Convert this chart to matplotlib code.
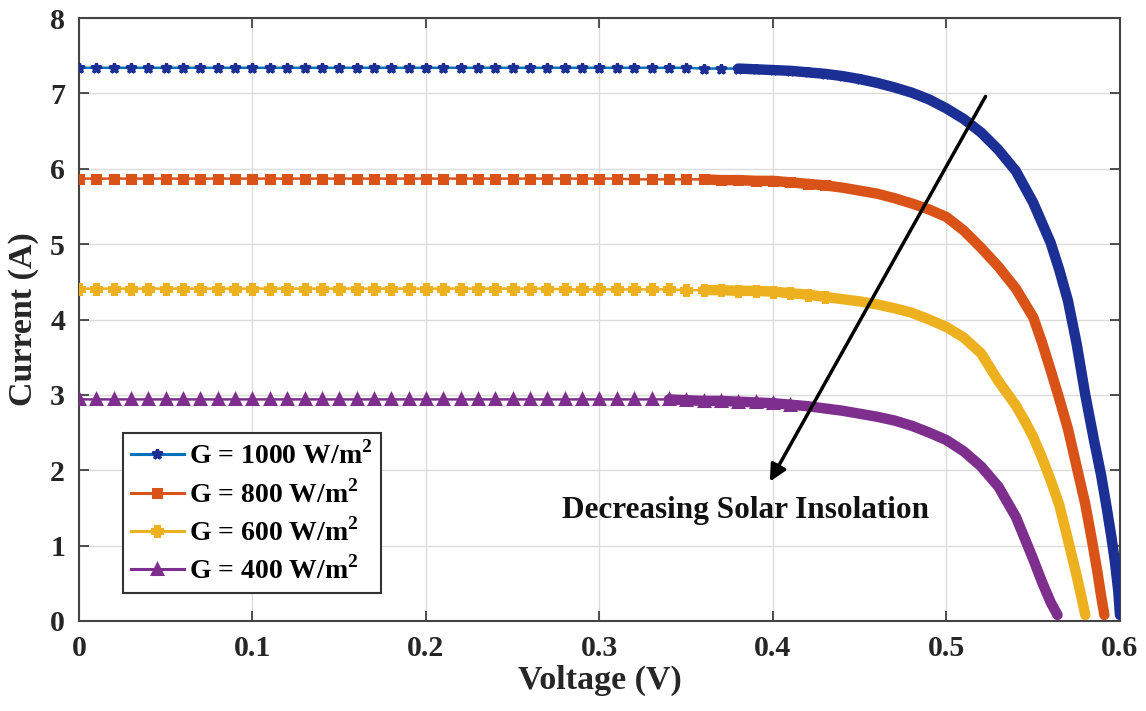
import numpy as np
import matplotlib
matplotlib.use("Agg")
import matplotlib.pyplot as plt
from matplotlib.lines import Line2D

plt.rcParams['font.family'] = ['Liberation Serif', 'DejaVu Serif']
plt.rcParams['font.weight'] = 'bold'
plt.rcParams['mathtext.fontset'] = 'custom'
plt.rcParams['mathtext.rm'] = 'Liberation Serif:bold'

# I-V curves (V in volts, I in amps)
v_1000 = [0.00, 0.01, 0.02, 0.03, 0.04, 0.05, 0.06, 0.07, 0.08, 0.09,
          0.10, 0.11, 0.12, 0.13, 0.14, 0.15, 0.16, 0.17, 0.18, 0.19,
          0.20, 0.21, 0.22, 0.23, 0.24, 0.25, 0.26, 0.27, 0.28, 0.29,
          0.30, 0.31, 0.32, 0.33, 0.34, 0.35, 0.36, 0.37, 0.38, 0.39,
          0.40, 0.41, 0.42, 0.43, 0.44, 0.45, 0.46, 0.47, 0.48, 0.49,
          0.50, 0.51, 0.52, 0.53, 0.54, 0.55, 0.56, 0.565, 0.57, 0.575,
          0.58, 0.585, 0.589, 0.592, 0.595, 0.597, 0.599, 0.600]
i_1000 = [7.34, 7.34, 7.34, 7.34, 7.34, 7.34, 7.34, 7.34, 7.34, 7.34,
          7.34, 7.34, 7.34, 7.34, 7.34, 7.34, 7.34, 7.34, 7.34, 7.34,
          7.34, 7.34, 7.34, 7.34, 7.34, 7.34, 7.34, 7.34, 7.34, 7.34,
          7.34, 7.34, 7.34, 7.34, 7.34, 7.34, 7.33, 7.33, 7.33, 7.32,
          7.31, 7.30, 7.28, 7.26, 7.23, 7.19, 7.14, 7.08, 7.01, 6.92,
          6.80, 6.66, 6.48, 6.25, 5.97, 5.55, 5.02, 4.66, 4.25, 3.68,
          3.00, 2.40, 1.95, 1.55, 1.12, 0.80, 0.40, 0.08]

v_800 = [0.00, 0.01, 0.02, 0.03, 0.04, 0.05, 0.06, 0.07, 0.08, 0.09,
         0.10, 0.11, 0.12, 0.13, 0.14, 0.15, 0.16, 0.17, 0.18, 0.19,
         0.20, 0.21, 0.22, 0.23, 0.24, 0.25, 0.26, 0.27, 0.28, 0.29,
         0.30, 0.31, 0.32, 0.33, 0.34, 0.35, 0.36, 0.37, 0.38, 0.39,
         0.40, 0.41, 0.42, 0.43, 0.44, 0.45, 0.46, 0.47, 0.48, 0.49,
         0.50, 0.51, 0.52, 0.53, 0.54, 0.55, 0.555, 0.56, 0.565, 0.57,
         0.575, 0.58, 0.584, 0.587, 0.589, 0.591]
i_800 = [5.87, 5.87, 5.87, 5.87, 5.87, 5.87, 5.87, 5.87, 5.87, 5.87,
         5.87, 5.87, 5.87, 5.87, 5.87, 5.87, 5.87, 5.87, 5.87, 5.87,
         5.87, 5.87, 5.87, 5.87, 5.87, 5.87, 5.87, 5.87, 5.87, 5.87,
         5.87, 5.87, 5.86, 5.86, 5.86, 5.86, 5.86, 5.85, 5.85, 5.84,
         5.84, 5.82, 5.80, 5.78, 5.75, 5.71, 5.67, 5.61, 5.54, 5.46,
         5.36, 5.18, 4.95, 4.70, 4.41, 4.03, 3.70, 3.33, 2.95, 2.55,
         2.05, 1.55, 1.05, 0.65, 0.35, 0.08]

v_600 = [0.00, 0.01, 0.02, 0.03, 0.04, 0.05, 0.06, 0.07, 0.08, 0.09,
         0.10, 0.11, 0.12, 0.13, 0.14, 0.15, 0.16, 0.17, 0.18, 0.19,
         0.20, 0.21, 0.22, 0.23, 0.24, 0.25, 0.26, 0.27, 0.28, 0.29,
         0.30, 0.31, 0.32, 0.33, 0.34, 0.35, 0.36, 0.37, 0.38, 0.39,
         0.40, 0.41, 0.42, 0.43, 0.44, 0.45, 0.46, 0.47, 0.48, 0.49,
         0.50, 0.51, 0.52, 0.53, 0.54, 0.545, 0.55, 0.555, 0.56, 0.565,
         0.57, 0.574, 0.577, 0.580]
i_600 = [4.41, 4.41, 4.41, 4.41, 4.41, 4.41, 4.41, 4.41, 4.41, 4.41,
         4.41, 4.41, 4.41, 4.41, 4.41, 4.41, 4.41, 4.41, 4.41, 4.41,
         4.41, 4.41, 4.41, 4.41, 4.41, 4.41, 4.41, 4.41, 4.40, 4.40,
         4.40, 4.40, 4.40, 4.40, 4.40, 4.39, 4.39, 4.39, 4.38, 4.38,
         4.37, 4.35, 4.33, 4.30, 4.27, 4.24, 4.20, 4.15, 4.09, 4.00,
         3.90, 3.76, 3.55, 3.18, 2.86, 2.66, 2.44, 2.17, 1.87, 1.54,
         1.08, 0.70, 0.40, 0.08]

v_400 = [0.00, 0.01, 0.02, 0.03, 0.04, 0.05, 0.06, 0.07, 0.08, 0.09,
         0.10, 0.11, 0.12, 0.13, 0.14, 0.15, 0.16, 0.17, 0.18, 0.19,
         0.20, 0.21, 0.22, 0.23, 0.24, 0.25, 0.26, 0.27, 0.28, 0.29,
         0.30, 0.31, 0.32, 0.33, 0.34, 0.35, 0.36, 0.37, 0.38, 0.39,
         0.40, 0.41, 0.42, 0.43, 0.44, 0.45, 0.46, 0.47, 0.48, 0.49,
         0.50, 0.51, 0.52, 0.53, 0.54, 0.545, 0.55, 0.555, 0.56, 0.564]
i_400 = [2.94, 2.94, 2.94, 2.94, 2.94, 2.94, 2.94, 2.94, 2.94, 2.94,
         2.94, 2.94, 2.94, 2.94, 2.94, 2.94, 2.94, 2.94, 2.94, 2.94,
         2.94, 2.94, 2.94, 2.94, 2.94, 2.94, 2.94, 2.94, 2.94, 2.94,
         2.94, 2.94, 2.94, 2.94, 2.94, 2.93, 2.92, 2.92, 2.91, 2.90,
         2.89, 2.87, 2.85, 2.82, 2.79, 2.75, 2.71, 2.66, 2.59, 2.50,
         2.40, 2.25, 2.05, 1.78, 1.38, 1.10, 0.82, 0.52, 0.25, 0.08]

labels = ['G = 1000 W/m$^2$', 'G = 800 W/m$^2$', 'G = 600 W/m$^2$', 'G = 400 W/m$^2$']
line_colors = ['#0072BD', '#D95319', '#EDB120', '#7E2F8E']
mark_colors = ['#1C2F94', '#D95319', '#EDB120', '#7E2F8E']
markers = ['*', 's', 'P', '^']
msizes = [7, 5.5, 6.5, 6.5]
knee = [0.38, 0.36, 0.36, 0.34]    # where the dense (solid) band starts
mark_end = [0.46, 0.44, 0.44, 0.42]  # markers still visible on top up to here

x_ticks = [0, 0.1, 0.2, 0.3, 0.4, 0.5, 0.6]
x_ticklabels = ['0', '0.1', '0.2', '0.3', '0.4', '0.5', '0.6']
y_ticks = [0, 1, 2, 3, 4, 5, 6, 7, 8]

fig = plt.figure(figsize=(11.46, 7.11), dpi=100)
ax = fig.add_axes([0.0689, 0.1266, 0.9084, 0.848])

curves = [(v_1000, i_1000), (v_800, i_800), (v_600, i_600), (v_400, i_400)]
handles = []
for k, (v, i) in enumerate(curves):
    v = np.array(v)
    i = np.array(i)
    dense = v >= knee[k]
    marked = v < mark_end[k]
    # thin line, then solid band over the steep part, markers on the flat part
    ax.plot(v, i, color=line_colors[k], lw=1.8, zorder=2)
    ax.plot(v[dense], i[dense], color=mark_colors[k], lw=7.5,
            solid_capstyle='round', solid_joinstyle='round', zorder=3)
    ax.plot(v[marked], i[marked], ls='none', marker=markers[k], ms=msizes[k],
            mfc=mark_colors[k], mec=mark_colors[k], mew=2.2, zorder=4)
    handles.append(Line2D([], [], color=line_colors[k], lw=2.2, marker=markers[k],
                          ms=msizes[k], mfc=mark_colors[k], mec=mark_colors[k], mew=2.2))

ax.set_xlim(0, 0.6)
ax.set_ylim(0, 8)
ax.set_xticks(x_ticks)
ax.set_xticklabels(x_ticklabels)
ax.set_yticks(y_ticks)
ax.tick_params(direction='in', length=7, width=1.2, labelsize=21.5, top=True, right=True,
               colors='#333333', labelcolor='#262626', pad=10)
ax.grid(True, color='#dcdcdc', lw=1.0)
ax.set_axisbelow(True)
for s in ax.spines.values():
    s.set_color('#444444')
    s.set_linewidth(1.5)

ax.set_xlabel('Voltage (V)', fontsize=24.5, fontweight='bold', color='#262626', labelpad=2)
ax.set_ylabel('Current (A)', fontsize=24.5, fontweight='bold', color='#262626', labelpad=8)

ax.annotate('', xy=(0.3982, 1.85), xytext=(0.5225, 6.96),
            arrowprops=dict(arrowstyle='-|>', color='black', lw=2.5,
                            mutation_scale=25, shrinkA=0, shrinkB=0), zorder=5)
ax.text(0.384, 1.47, 'Decreasing Solar Insolation', ha='center', va='center',
        fontsize=22.5, fontweight='bold', color='#111111')

leg = ax.legend(handles, labels, loc='lower left', bbox_to_anchor=(0.042, 0.046), fontsize=20,
                handlelength=1.9, handletextpad=0.2, borderpad=0.3, labelspacing=0.35,
                fancybox=False, framealpha=1, edgecolor='#333333', borderaxespad=0)
leg.get_frame().set_linewidth(1.5)
leg.set_zorder(6)

fig.savefig('out.png', dpi=100)
